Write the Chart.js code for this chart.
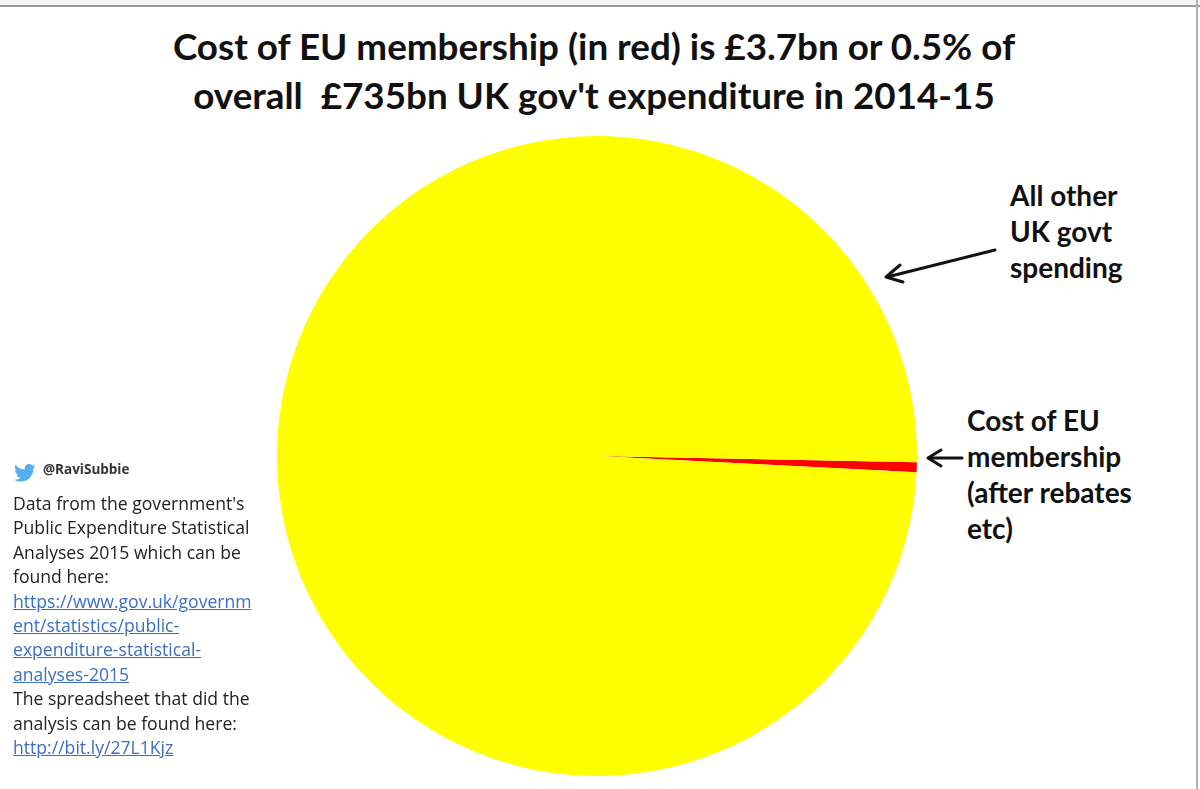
<!DOCTYPE html>
<html>
<head>
<meta charset="utf-8">
<script src="https://cdn.jsdelivr.net/npm/chart.js@4"></script>
<style>
  html, body { margin: 0; padding: 0; }
  body { width: 1200px; height: 789px; position: relative; overflow: hidden; background: #fff; font-family: "Open Sans", sans-serif; color: #111; }
  .topbar { position: absolute; left: 0; top: 0; width: 1200px; height: 5px; background: #f4f4f4; border-bottom: 2px solid #9a9a9a; }
  .rightbar { position: absolute; left: 1196px; top: 0; width: 2px; height: 789px; background: #b0b0b0; }
  .title { position: absolute; left: 0; top: 22px; width: 1188px; text-align: center; font-family: "Lato", sans-serif; font-weight: bold; font-size: 36.8px; line-height: 49px; }
  .lbl { position: absolute; font-family: "Lato", sans-serif; font-weight: bold; font-size: 28px; line-height: 36px; }
  .note { position: absolute; left: 13px; top: 491px; font-size: 17.6px; line-height: 24.4px; color: #222; }
  .note a { color: #3b6fc4; text-decoration: underline; }
  .handle { position: absolute; left: 43px; top: 460px; font-weight: bold; font-size: 13.5px; color: #333; }
  #wrap { position: absolute; left: 277px; top: 136px; width: 640px; height: 640px; }
  svg { position: absolute; left: 0; top: 0; }
</style>
</head>
<body>
<div class="topbar"></div>
<div class="rightbar"></div>
<div class="title">Cost of EU membership (in red) is £3.7bn or 0.5% of<br>overall&nbsp; £735bn UK gov't expenditure in 2014-15</div>

<div id="wrap"><canvas id="pie"></canvas></div>

<div class="lbl" style="left:1010px; top:177px;">All other<br>UK govt<br>spending</div>
<div class="lbl" style="left:967px; top:402px;">Cost of EU<br>membership<br>(after rebates<br>etc)</div>

<svg width="1200" height="789">
  <g stroke="#111" stroke-width="3" fill="none" stroke-linecap="round" stroke-linejoin="round">
    <line x1="995" y1="250" x2="887" y2="277"/>
    <polyline points="900,265 886,277 903,282"/>
    <line x1="962" y1="458" x2="929" y2="458"/>
    <polyline points="941,450 928,458 941,466"/>
  </g>
  <path fill="#55acee" transform="translate(14,462) scale(0.9)" d="M24 4.6c-.9.4-1.8.6-2.8.8 1-.6 1.8-1.6 2.2-2.7-1 .6-2 1-3.1 1.2C19.4 2.9 18.1 2.3 16.7 2.3c-2.7 0-4.9 2.200-4.9 4.900 0 .4 0 .8.1 1.1C7.8 8.1 4.2 6.1 1.7 3.2c-.4.7-.7 1.6-.7 2.5 0 1.700.9 3.200 2.2 4.1-.8 0-1.6-.2-2.2-.6v.1c0 2.4 1.7 4.4 3.9 4.8-.4.1-.8.2-1.3.2-.3 0-.6 0-.9-.1.6 2 2.4 3.4 4.6 3.4-1.7 1.3-3.8 2.1-6.1 2.1-.4 0-.8 0-1.2-.1 2.2 1.4 4.8 2.2 7.5 2.2 9.1 0 14-7.5 14-14v-.6c1-.7 1.8-1.6 2.5-2.6z"/>
</svg>

<div class="handle">@RaviSubbie</div>
<div class="note">
  Data from the government's<br>
  Public Expenditure Statistical<br>
  Analyses 2015 which can be<br>
  found here:<br>
  <a>https://www.gov.uk/governm</a><br>
  <a>ent/statistics/public-</a><br>
  <a>expenditure-statistical-</a><br>
  <a>analyses-2015</a><br>
  The spreadsheet that did the<br>
  analysis can be found here:<br>
  <a>http://bit.ly/27L1Kjz</a>
</div>

<script>
// spending 2014-15, £bn
const categories = ['Cost of EU membership', 'All other UK govt spending'];
const spending = [3.7, 731.3];
const sliceColors = ['#ff0000', '#ffff00'];

const cfg = {
  type: 'pie',
  data: {
    labels: categories,
    datasets: [{
      data: spending,
      backgroundColor: sliceColors,
      borderWidth: 0
    }]
  },
  options: {
    responsive: true,
    maintainAspectRatio: false,
    animation: false,
    rotation: 91.1,
    layout: { padding: 0 },
    plugins: {
      legend: { display: false },
      tooltip: { enabled: false },
      title: { display: false }
    }
  }
};
new Chart(document.getElementById('pie').getContext('2d'), cfg);
</script>
</body>
</html>
